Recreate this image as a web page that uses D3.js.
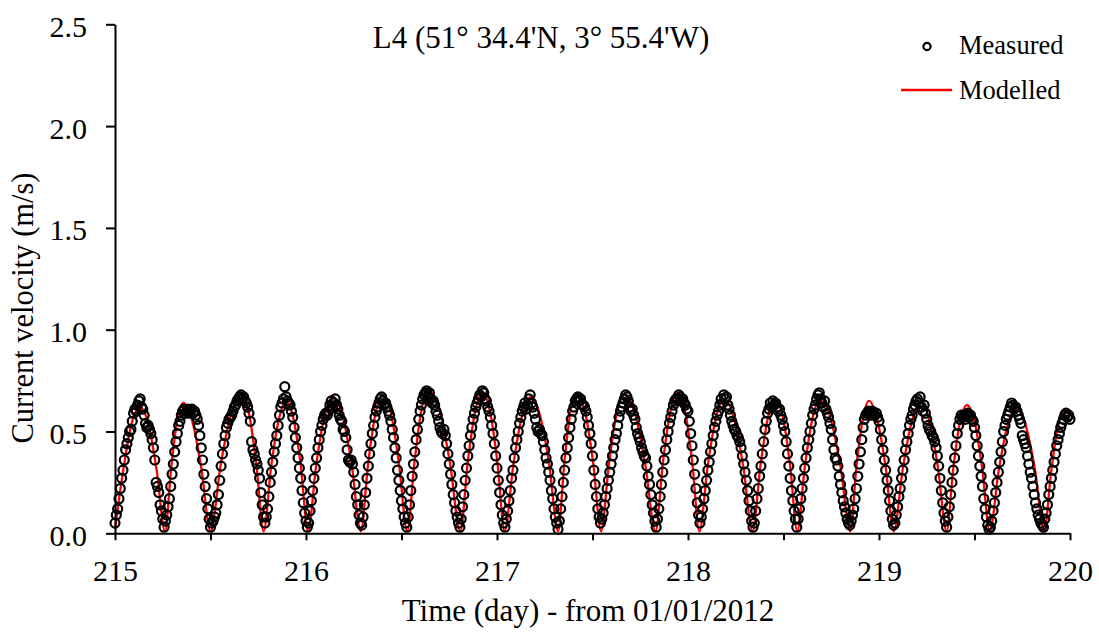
<!DOCTYPE html>
<html>
<head>
<meta charset="utf-8">
<script src="https://cdn.jsdelivr.net/npm/d3@7"></script>
<style>
  html, body { margin: 0; padding: 0; background: #fff; }
  svg { display: block; }
  text { font-family: "Liberation Serif", "Times New Roman", serif; fill: #000; }
</style>
</head>
<body>
<svg id="chart" width="1099" height="632"></svg>
<script>
// Measured current speed (m/s), one sample every 10 minutes, one array per day
const measured215 = [
  0.05,0.09,0.12,0.17,0.22,0.27,0.31,0.36,0.41,0.44,0.47,0.50,0.51,0.55,0.59,0.61,0.60,0.63,0.65,0.66,
  0.62,0.61,0.58,0.54,0.52,0.53,0.51,0.49,0.46,0.42,0.36,0.25,0.23,0.20,0.14,0.11,0.07,0.03,
  0.06,0.09,0.13,0.17,0.23,0.29,0.34,0.40,0.45,0.49,0.53,0.55,0.58,0.60,0.61,0.59,0.60,0.61,0.59,0.60,
  0.61,0.59,0.60,0.58,0.56,0.53,0.48,0.42,0.36,0.29,0.23,0.17,0.12,0.07,0.03,
  0.05,0.06,0.08,0.10,0.14,0.19,0.26,0.33,0.39,0.44,0.48,0.52,0.54,0.56,0.57,0.58,0.60,0.62,0.63,0.65,
  0.66,0.67,0.68,0.66,0.67,0.65,0.64,0.62,0.59,0.55,0.45,0.41,0.39,0.36,0.34,0.31,0.27,0.20,0.14,0.08,
  0.05,0.08,0.12,0.18,0.25,0.30,0.35,0.40,0.44,0.48,0.53,0.58,0.62,0.64,0.66,0.72,0.67,0.65,0.64,0.63,
  0.60,0.57,0.52,0.47,0.42,0.37,0.32,0.27,0.21,0.15,0.10
];
const measured216 = [
  0.06,0.03,
  0.05,0.11,0.16,0.21,0.27,0.32,0.37,0.42,0.46,0.50,0.53,0.56,0.58,0.59,0.58,0.60,0.63,0.65,0.62,0.64,
  0.66,0.63,0.61,0.58,0.56,0.55,0.51,0.50,0.47,0.41,0.36,0.35,0.36,0.34,0.30,0.24,0.18,0.14,0.09,0.05,
  0.04,
  0.08,0.14,0.20,0.27,0.33,0.39,0.44,0.49,0.53,0.57,0.60,0.62,0.64,0.66,0.67,0.65,0.63,0.64,0.62,0.60,
  0.58,0.55,0.51,0.47,0.42,0.37,0.31,0.26,0.21,0.16,0.12,0.08,0.05,0.03,
  0.08,0.14,0.21,0.28,0.34,0.40,0.46,0.51,0.56,0.60,0.63,0.66,0.68,0.69,0.70,0.67,0.69,0.66,0.64,0.65,
  0.63,0.60,0.58,0.55,0.52,0.50,0.49,0.51,0.48,0.44,0.39,0.34,0.29,0.24,0.19,0.15,0.11,0.08,0.05,0.03,
  0.07,0.13,0.19,0.26,0.32,0.38,0.43,0.48,0.52,0.56,0.59,0.62,0.64,0.66,0.68,0.67,0.70,0.69,0.66,0.65,
  0.62,0.60,0.57,0.53,0.49,0.44,0.38
];
const measured217 = [
  0.32,0.26,0.20,0.14,0.09,0.05,0.03,
  0.07,0.11,0.16,0.21,0.27,0.31,0.37,0.42,0.46,0.50,0.54,0.57,0.60,0.62,0.64,0.61,0.63,0.66,0.68,0.64,
  0.62,0.59,0.56,0.52,0.50,0.51,0.49,0.48,0.45,0.41,0.37,0.34,0.30,0.26,0.21,0.17,0.12,0.08,0.05,0.02,
  0.06,0.12,0.18,0.25,0.31,0.37,0.42,0.47,0.52,0.56,0.60,0.62,0.65,0.66,0.67,0.65,0.66,0.63,0.63,0.62,
  0.60,0.57,0.53,0.49,0.44,0.38,0.31,0.24,0.18,0.12,0.08,0.05,
  0.07,0.10,0.14,0.18,0.22,0.26,0.30,0.34,0.38,0.42,0.46,0.49,0.53,0.57,0.60,0.62,0.64,0.66,0.68,0.67,
  0.65,0.62,0.60,0.61,0.58,0.56,0.52,0.49,0.47,0.45,0.42,0.40,0.38,0.37,0.33,0.28,0.24,0.19,0.14,0.10,
  0.06,0.03,
  0.07,0.12,0.18,0.24,0.30,0.36,0.41,0.46,0.50,0.54,0.57,0.60,0.63,0.65,0.66,0.66,0.68,0.67,0.65,0.66,
  0.64,0.63,0.61
];
const measured218 = [
  0.60,0.55,0.49,0.43,0.36,0.29,0.22,0.15,0.09,0.05,
  0.08,0.12,0.17,0.21,0.26,0.31,0.35,0.40,0.44,0.48,0.52,0.55,0.58,0.60,0.63,0.66,0.64,0.68,0.66,0.67,
  0.63,0.61,0.58,0.55,0.53,0.51,0.50,0.48,0.47,0.45,0.42,0.38,0.34,0.30,0.26,0.21,0.16,0.11,0.06,0.03,
  0.05,0.11,0.17,0.22,0.28,0.33,0.39,0.45,0.51,0.55,0.59,0.61,0.64,0.62,0.65,0.63,0.64,0.62,0.60,0.61,
  0.58,0.56,0.53,0.50,0.45,0.39,0.33,0.27,0.21,0.16,0.11,0.07,0.03,
  0.07,0.12,0.17,0.22,0.27,0.32,0.37,0.42,0.46,0.50,0.54,0.58,0.61,0.63,0.66,0.68,0.69,0.66,0.64,0.62,
  0.65,0.61,0.59,0.57,0.54,0.51,0.46,0.41,0.37,0.36,0.33,0.28,0.24,0.20,0.16,0.13,0.10,0.07,0.05,0.04,
  0.06,0.09,0.12,0.17,0.22,0.28,0.34,0.40,0.46,0.52,0.56,0.58,0.59,0.60,0.59,0.58,0.60,0.59,0.58,0.59,
  0.57
];
const measured219 = [
  0.55,0.51,0.46,0.41,0.36,0.31,0.26,0.21,0.16,0.11,0.07,0.04,
  0.05,0.09,0.13,0.18,0.22,0.27,0.31,0.36,0.41,0.45,0.49,0.53,0.56,0.58,0.61,0.63,0.65,0.66,0.64,0.67,
  0.62,0.60,0.63,0.59,0.56,0.53,0.51,0.50,0.48,0.47,0.45,0.42,0.38,0.33,0.27,0.21,0.15,0.10,0.06,0.03,
  0.08,0.13,0.19,0.25,0.31,0.37,0.43,0.49,0.53,0.56,0.58,0.57,0.58,0.56,0.58,0.59,0.57,0.58,0.56,0.55,
  0.52,0.48,0.43,0.38,0.33,0.28,0.23,0.17,0.12,0.08,0.04,0.02,0.03,
  0.06,0.11,0.15,0.20,0.25,0.30,0.35,0.40,0.45,0.50,0.53,0.56,0.58,0.60,0.62,0.64,0.63,0.61,0.62,0.60,
  0.58,0.56,0.54,0.48,0.46,0.44,0.42,0.38,0.34,0.30,0.27,0.23,0.19,0.15,0.12,0.09,0.07,0.05,0.04,0.03,
  0.07,0.10,0.14,0.19,0.23,0.27,0.31,0.35,0.39,0.43,0.46,0.49,0.52,0.54,0.56,0.58,0.59,0.57,0.58,0.56
];
const measuredDays = [215, 216, 217, 218, 219];
const samplesPerDay = 144;

// Modelled current speed: turning points and flank points of the model curve
const modelDay = [
  215.000,215.043,215.087,215.130,215.174,215.218,215.262,
  215.294,215.325,215.357,215.405,215.452,215.500,
  215.554,215.609,215.663,215.701,215.740,215.778,
  215.818,215.858,215.898,215.935,215.973,216.010,
  216.054,216.098,216.142,216.190,216.239,216.287,
  216.325,216.364,216.402,216.445,216.487,216.530,
  216.568,216.605,216.643,216.698,216.753,216.808,
  216.847,216.886,216.925,216.963,217.002,217.040,
  217.086,217.132,217.178,217.225,217.273,217.320,
  217.353,217.385,217.418,217.460,217.503,217.545,
  217.586,217.627,217.668,217.722,217.776,217.830,
  217.869,217.908,217.947,217.985,218.022,218.060,
  218.103,218.147,218.190,218.239,218.289,218.338,
  218.379,218.419,218.460,218.497,218.535,218.572,
  218.612,218.653,218.693,218.745,218.798,218.850,
  218.882,218.915,218.947,218.990,219.034,219.077,
  219.125,219.172,219.220,219.265,219.309,219.354,
  219.389,219.425,219.460,219.500,219.540,219.580,
  219.627,219.673,219.720,219.768,219.817,219.865,
  219.901,219.936,219.972,220.000
];
const modelSpeed = [
  0.02,0.31,0.54,0.62,0.54,0.31,0.01,
  0.32,0.55,0.64,0.55,0.32,0.01,
  0.34,0.59,0.68,0.59,0.34,0.01,
  0.33,0.56,0.65,0.56,0.33,0.01,
  0.34,0.58,0.67,0.58,0.34,0.01,
  0.34,0.59,0.68,0.59,0.34,0.01,
  0.35,0.61,0.70,0.61,0.35,0.01,
  0.35,0.60,0.69,0.60,0.35,0.01,
  0.34,0.58,0.67,0.58,0.34,0.01,
  0.35,0.60,0.69,0.60,0.35,0.01,
  0.34,0.59,0.68,0.59,0.34,0.01,
  0.35,0.60,0.69,0.60,0.35,0.01,
  0.33,0.57,0.66,0.57,0.33,0.01,
  0.33,0.57,0.66,0.57,0.33,0.01,
  0.33,0.57,0.66,0.57,0.33,0.01,
  0.33,0.56,0.65,0.56,0.33,0.01,
  0.32,0.55,0.64,0.55,0.32,0.01,
  0.32,0.55,0.63,0.55,0.32,0.01,
  0.31,0.53,0.61,0.53,0.31,0.01,
  0.30,0.52,0.60,0.59
];

// Axis ticks and labels
const xTicks = [215, 215.5, 216, 216.5, 217, 217.5, 218, 218.5, 219, 219.5, 220];
const yTicks = [0, 0.5, 1.0, 1.5, 2.0, 2.5];
const chartTitle = "L4 (51° 34.4'N, 3° 55.4'W)";
const xTitle = "Time (day) - from 01/01/2012";
const yTitle = "Current velocity (m/s)";
const seriesNames = ["Measured", "Modelled"];

const measuredArrays = [measured215, measured216, measured217, measured218, measured219];
const measured = [];
measuredArrays.forEach((arr, k) => {
  arr.forEach((v, i) => measured.push({ t: measuredDays[k] + i / samplesPerDay, v }));
});
const modelled = modelDay.map((t, i) => ({ t, v: modelSpeed[i] }));

const svg = d3.select("#chart");
svg.append("rect").attr("width", 1099).attr("height", 632).attr("fill", "#fff");

const x = d3.scaleLinear().domain([215, 220]).range([115, 1070]);
const y = d3.scaleLinear().domain([0, 2.5]).range([533.3, 24.3]);

// modelled line
const line = d3.line()
  .x(d => x(d.t))
  .y(d => y(d.v))
  .curve(d3.curveMonotoneX);
svg.append("path")
  .datum(modelled)
  .attr("d", line)
  .attr("fill", "none")
  .attr("stroke", "#ff0000")
  .attr("stroke-width", 2.3);

// measured points (hollow circles)
svg.append("g")
  .selectAll("circle")
  .data(measured)
  .join("circle")
  .attr("cx", d => x(d.t))
  .attr("cy", d => y(d.v))
  .attr("r", 4.5)
  .attr("fill", "none")
  .attr("stroke", "#000")
  .attr("stroke-width", 2.2);

// x axis
const xAxis = svg.append("g")
  .attr("transform", "translate(0,533.3)")
  .call(d3.axisBottom(x)
    .tickValues(xTicks)
    .tickSize(7)
    .tickSizeOuter(0)
    .tickPadding(19)
    .tickFormat(d => Number.isInteger(d) ? d3.format("d")(d) : ""));
xAxis.select(".domain").attr("stroke", "#000").attr("stroke-width", 2);
xAxis.selectAll(".tick line").attr("stroke", "#000").attr("stroke-width", 2);
xAxis.selectAll(".tick text")
  .attr("font-size", 30)
  .attr("font-family", "Liberation Serif, Times New Roman, serif")
  .attr("dy", "0.71em");

// y axis
const yAxis = svg.append("g")
  .attr("transform", "translate(115,0)")
  .call(d3.axisLeft(y)
    .tickValues(yTicks)
    .tickSize(9)
    .tickSizeOuter(0)
    .tickPadding(19)
    .tickFormat(d3.format(".1f")));
yAxis.select(".domain").attr("stroke", "#000").attr("stroke-width", 2);
yAxis.selectAll(".tick line").attr("stroke", "#000").attr("stroke-width", 2);
yAxis.selectAll(".tick text")
  .attr("font-size", 30)
  .attr("font-family", "Liberation Serif, Times New Roman, serif")
  .attr("dy", "0.4em");

// titles
svg.append("text")
  .attr("x", 541).attr("y", 48)
  .attr("text-anchor", "middle")
  .attr("font-size", 31)
  .text(chartTitle);

svg.append("text")
  .attr("x", 588).attr("y", 621)
  .attr("text-anchor", "middle")
  .attr("font-size", 31)
  .text(xTitle);

svg.append("text")
  .attr("transform", "translate(33,308) rotate(-90)")
  .attr("text-anchor", "middle")
  .attr("font-size", 30.5)
  .text(yTitle);

// legend
const legend = svg.append("g");
legend.append("circle")
  .attr("cx", 927).attr("cy", 46.5).attr("r", 3.6)
  .attr("fill", "none").attr("stroke", "#000").attr("stroke-width", 2.2);
legend.append("text")
  .attr("x", 959).attr("y", 53.5)
  .attr("font-size", 26.5)
  .text(seriesNames[0]);
legend.append("line")
  .attr("x1", 901).attr("x2", 952).attr("y1", 90).attr("y2", 90)
  .attr("stroke", "#ff0000").attr("stroke-width", 2.3);
legend.append("text")
  .attr("x", 959).attr("y", 99)
  .attr("font-size", 26.5)
  .text(seriesNames[1]);
</script>
</body>
</html>
